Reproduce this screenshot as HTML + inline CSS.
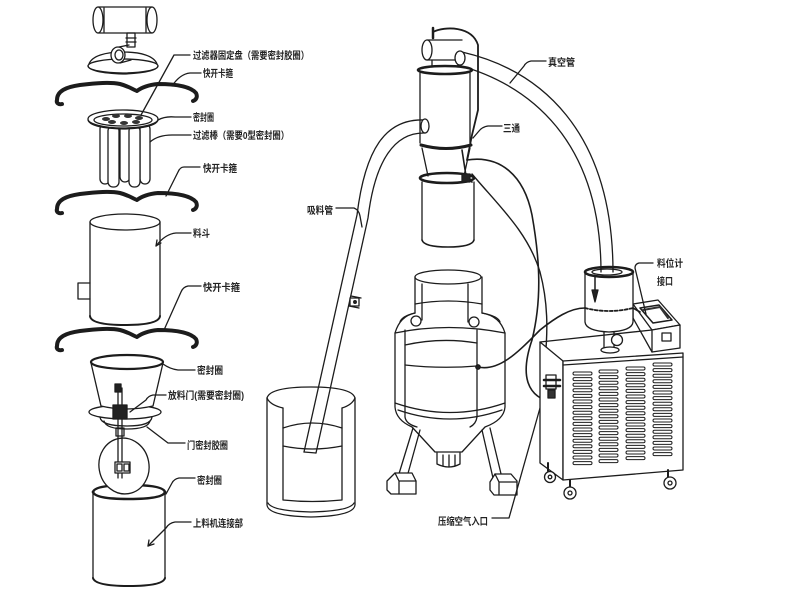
<!DOCTYPE html>
<html><head><meta charset="utf-8">
<style>
html,body{margin:0;padding:0;background:#fff;}
svg{display:block;}
text{font-family:"Liberation Sans","Noto Sans CJK SC","WenQuanYi Zen Hei",sans-serif;font-size:10px;fill:#222;font-weight:bold;}
</style></head>
<body>
<svg width="800" height="600" viewBox="0 0 800 600" xmlns="http://www.w3.org/2000/svg">
<defs>
<path id="clamp" d="M57 100 C57 91 66 87 80 85 C97 83 110 82 120 84 C128 86 132 89 137 91 C142 87 148 85 158 84 C174 84 190 86 196 93 C198 97 196 100 193 101 M57 100 C56 103 59 105 62 104"/>
</defs>
<g fill="none" stroke="#1c1c1c" stroke-width="1.3" stroke-linejoin="round" stroke-linecap="round">

<!-- ===== LEFT EXPLODED COLUMN ===== -->
<path d="M98 7 H152 M98 33 H152"/>
<ellipse cx="98" cy="20" rx="5" ry="13" fill="#fff"/>
<ellipse cx="152" cy="20" rx="5" ry="13"/>
<path d="M104 8 V32 M146 8 V32"/>
<rect x="127" y="33" width="8" height="14"/>
<path d="M126 38 H136 M126 42 H136"/>
<path d="M89 64 C92 56 105 52 123 52 C141 52 154 56 157 64"/>
<ellipse cx="123" cy="66" rx="35" ry="7" fill="#fff"/>
<path d="M88 66 Q90 73 123 74 Q156 73 158 66"/>
<ellipse cx="118" cy="55" rx="7" ry="8" fill="#fff"/>
<ellipse cx="119" cy="55" rx="4" ry="5"/>
<path d="M119 47 L129 45 M120 63 L131 60"/>

<use href="#clamp" stroke-width="4"/>

<g fill="#fff">
<rect x="100" y="124" width="10" height="60" rx="5"/>
<rect x="120" y="122" width="10" height="60" rx="5"/>
<rect x="140" y="124" width="10" height="60" rx="5"/>
<rect x="108" y="126" width="11" height="61" rx="5"/>
<rect x="129" y="126" width="11" height="61" rx="5"/>
</g>
<path d="M88 120 Q90 128 123 129 Q156 128 158 120" fill="#fff"/>
<ellipse cx="123" cy="119" rx="35" ry="9" fill="#fff"/>
<ellipse cx="123" cy="120" rx="29" ry="6"/>
<g fill="#333" stroke="none">
<ellipse cx="106" cy="119" rx="4" ry="2"/><ellipse cx="116" cy="116" rx="4" ry="2"/>
<ellipse cx="128" cy="116" rx="4" ry="2"/><ellipse cx="139" cy="118" rx="4" ry="2"/>
<ellipse cx="112" cy="122" rx="4" ry="2"/><ellipse cx="124" cy="123" rx="4" ry="2"/>
<ellipse cx="136" cy="122" rx="4" ry="2"/>
</g>

<use href="#clamp" transform="translate(0,109)" stroke-width="4"/>

<ellipse cx="125" cy="222" rx="35" ry="8"/>
<path d="M90 222 V316 M160 222 V316"/>
<path d="M90 316 Q91 325 125 325 Q159 325 160 316" stroke-width="2"/>
<path d="M90 283 H78 V299 H90"/>

<use href="#clamp" transform="translate(0,246)" stroke-width="4"/>

<ellipse cx="125" cy="412" rx="36" ry="7" fill="#fff"/>
<path d="M100 417 Q101 426 127 426 Q151 426 152 417"/>
<path d="M104 421 Q106 429 127 429 Q148 429 150 421"/>
<path d="M91 363 L101 406 Q126 412 153 406 L163 363" fill="#fff"/>
<ellipse cx="127" cy="362" rx="36" ry="7" stroke-width="2.2"/>

<path d="M93 492 Q95 485 129 485 Q163 485 165 492" stroke-width="2.5"/>
<ellipse cx="124" cy="466" rx="25" ry="28" transform="rotate(-10 124 466)" fill="#fff"/>
<path d="M118 388 V478 M122 388 V478"/>
<rect x="115" y="384" width="6" height="8" fill="#222"/>
<rect x="113" y="405" width="14" height="14" fill="#222"/>
<rect x="116" y="428" width="8" height="8"/>
<rect x="115" y="462" width="15" height="11" fill="#fff"/>
<rect x="117" y="464" width="5" height="7"/><rect x="124" y="464" width="5" height="7"/>
<path d="M93 492 Q95 499 129 499 Q163 499 165 492" stroke-width="2.5"/>
<path d="M93 492 V578 M165 492 V578"/>
<path d="M93 578 Q95 586 129 586 Q163 586 165 578" stroke-width="2"/>

<!-- left leaders -->
<path d="M190 55 H174 L141 115"/>
<path d="M201 73 H190 Q180 74 172 86"/>
<path d="M191 117 H175 Q165 116 158 120"/>
<path d="M191 135 H172 Q158 135 150 142"/>
<path d="M200 167 H184 Q180 167 178 172 L166 196"/>
<path d="M191 233 H176 Q165 234 156 246"/>
<path d="M156 246 L157 240 M156 246 L161 243"/>
<path d="M201 286 H188 Q183 287 181 292 L164 330"/>
<path d="M195 370 H178 Q170 369 163 364"/>
<path d="M166 395 H153 Q148 396 146 400 L130 412"/>
<path d="M185 443 H168 L147 427"/>
<path d="M195 478 H179 Q174 479 172 483 L166 494"/>
<path d="M191 522 H175 Q169 523 166 528 L148 546"/>
<path d="M148 546 L149 540 M148 546 L154 544"/>

<!-- ===== BEAKER ===== -->
<path d="M267 398 Q270 387 311 387 Q352 387 355 398"/>
<path d="M267 398 Q270 405 283 408 M342 408 Q352 405 355 398"/>
<path d="M283 408 V500 Q312 503 342 500 V408"/>
<path d="M267 398 V505 Q268 516 311 517 Q354 516 355 505 V398"/>
<path d="M268 503 Q272 511 311 512 Q350 511 354 503"/>
<path d="M283 428 Q312 418 342 428"/>
<path d="M283 446 Q312 452 342 446"/>

<!-- suction pipe -->
<path d="M425 120 C385 118 365 150 357 215 L304 452"/>
<path d="M425 133 C395 132 375 160 368 218 L316 453"/>
<path d="M304 452 L316 453"/>
<path d="M351 296 L361 298 M349 306 L359 308"/>
<rect x="350" y="298" width="9" height="8" fill="#fff"/>
<circle cx="355" cy="302" r="1.3" fill="#222"/>
<ellipse cx="425" cy="126" rx="4" ry="7" fill="#fff"/>
<path d="M336 208 H354 Q359 210 360 216 L362 227"/>

<!-- ===== CYCLONE RECEIVER ===== -->
<path d="M433 32 C445 26 472 26 478 45 L478 110 L472 135 L467 160" stroke-width="1.8"/>
<path d="M433 28 V38" stroke-width="2.5"/>
<path d="M427 40 H462 M427 60 H462"/>
<ellipse cx="427" cy="50" rx="5" ry="10" fill="#fff"/>
<path d="M432 60 V67 M458 60 V67"/>
<path d="M462 52 C540 70 612 130 613 270"/>
<path d="M458 65 C530 85 600 140 601 270"/>
<ellipse cx="460" cy="58" rx="5" ry="7" fill="#fff"/>
<ellipse cx="445" cy="70" rx="27" ry="4" stroke-width="2.6"/>
<path d="M420 73 V143 M470 73 V143"/>
<path d="M421 145 Q446 152 471 145" stroke-width="3"/>
<path d="M422 148 L428 176 M470 148 L464 176"/>
<ellipse cx="447" cy="178" rx="27" ry="5" stroke-width="2.6"/>
<path d="M422 182 V240 M474 182 V240"/>
<path d="M422 240 Q424 247 448 247 Q472 247 474 240" stroke-width="1.6"/>
<path d="M462 150 L466 176 L472 182" stroke-width="1.6"/>
<rect x="462" y="174" width="8" height="8" fill="#222"/>
<path d="M546 61 H531 Q526 62 524 66 L510 83"/>
<path d="M502 126 H488 Q482 127 479 131 L473 138"/>

<!-- cables -->
<path d="M467 160 C500 155 524 175 532 215 C540 260 542 300 532 340 C520 375 526 398 555 403" stroke-width="1.6"/>
<path d="M472 174 C498 205 528 232 540 272 C548 302 548 330 545 360" stroke-width="1.4"/>
<path d="M478 367 C500 372 520 350 540 330 C555 318 570 308 585 308" stroke-width="1.6"/>

<!-- ===== TANK ===== -->
<path d="M415 277 V313 M482 277 V313"/>
<ellipse cx="448" cy="277" rx="33" ry="7" fill="#fff"/>
<path d="M422 284 V320 M468 284 V322"/>
<path d="M415 304 Q448 298 482 304"/>
<path d="M415 313 Q400 316 395 333 V407 Q396 420 412 427 L435 452 H462 L485 427 Q504 420 505 407 V333 Q500 316 482 313"/>
<path d="M400 322 Q402 316 415 313 M500 322 Q498 316 482 313"/>
<circle cx="416" cy="321" r="5"/>
<circle cx="474" cy="322" r="5"/>
<path d="M405 330 V417 Q406 424 417 427 M477 330 V417 Q476 424 470 427"/>
<path d="M405 345 Q441 337 477 343"/>
<path d="M405 365 Q441 369 477 366"/>
<path d="M395 333 Q448 322 505 333"/>
<path d="M395 403 Q450 422 505 403"/>
<path d="M398 410 Q450 428 502 410"/>
<path d="M437 453 V464 Q449 470 460 464 V453"/>
<path d="M443 455 V466 M449 455 V467 M455 455 V466"/>
<circle cx="478" cy="367" r="2.2" fill="#222"/>
<path d="M413 428 L398 477 M420 430 L407 477"/>
<path d="M387 481 L395 473 H412 L416 481 V494 H391 L387 490 Z" fill="#fff"/>
<path d="M395 473 L399 481 H416 M399 481 V494"/>
<path d="M482 430 L493 478 M490 428 L502 478"/>
<path d="M490 482 L495 474 H511 L517 481 V495 H494 L490 490 Z" fill="#fff"/>
<path d="M495 474 L499 482 H517 M499 482 V495"/>
<path d="M492 518 H509 L540 408"/>

<!-- ===== MACHINE ===== -->
<path d="M540 342 L563 361 V480 L540 463 Z" fill="#fff"/>
<path d="M563 361 L683 353 V470 L563 480 Z" fill="#fff"/>
<path d="M540 342 L652 330"/>
<path d="M563 365 L683 357"/>
<g stroke-width="1">
<g id="vcol">
<rect x="573" y="372" width="19" height="3" rx="1.5"/><rect x="573" y="377.6" width="19" height="3" rx="1.5"/>
<rect x="573" y="383.2" width="19" height="3" rx="1.5"/><rect x="573" y="388.8" width="19" height="3" rx="1.5"/>
<rect x="573" y="394.4" width="19" height="3" rx="1.5"/><rect x="573" y="400" width="19" height="3" rx="1.5"/>
<rect x="573" y="405.6" width="19" height="3" rx="1.5"/><rect x="573" y="411.2" width="19" height="3" rx="1.5"/>
<rect x="573" y="416.8" width="19" height="3" rx="1.5"/><rect x="573" y="422.4" width="19" height="3" rx="1.5"/>
<rect x="573" y="428" width="19" height="3" rx="1.5"/><rect x="573" y="433.6" width="19" height="3" rx="1.5"/>
<rect x="573" y="439.2" width="19" height="3" rx="1.5"/><rect x="573" y="444.8" width="19" height="3" rx="1.5"/>
<rect x="573" y="450.4" width="19" height="3" rx="1.5"/><rect x="573" y="456" width="19" height="3" rx="1.5"/>
<rect x="573" y="461.6" width="19" height="3" rx="1.5"/>
</g>
<use href="#vcol" transform="translate(26,-2)"/>
<use href="#vcol" transform="translate(53,-5)"/>
<use href="#vcol" transform="translate(80,-9)"/>
</g>
<path d="M633 304 L658 300 L680 325 L652 330 Z" fill="#fff"/>
<path d="M652 330 L680 325 V348 L652 352 Z" fill="#fff"/>
<path d="M633 304 V318 L652 352"/>
<path d="M640 308 L659 305 L672 320 L653 323 Z" stroke-width="1.5"/>
<path d="M643 310 L660 307 L668 318" stroke="#333" stroke-width="2"/>
<rect x="662" y="333" width="9" height="8"/>
<path d="M585 272 V322 Q586 331 609 332 Q632 331 633 322 V272" fill="#fff"/>
<path d="M601 268 V272 M613 268 V272"/>
<ellipse cx="609" cy="272" rx="24" ry="5" stroke-width="2.5"/>
<ellipse cx="607" cy="272" rx="15" ry="3"/>
<path d="M585 308 Q609 314 633 308" stroke-dasharray="3 2" stroke-width="1.8"/>
<path d="M633 308 L640 312" stroke-width="1.6"/>
<path d="M595 277 V300" stroke-width="1.5"/>
<path d="M592 290 L595 302 L598 290 Z" fill="#222"/>
<path d="M604 332 V348 M614 332 V348"/>
<circle cx="617" cy="340" r="5.5" fill="#fff"/>
<ellipse cx="610" cy="350" rx="9" ry="3" fill="#fff"/>
<path d="M653 263 H639 Q635 264 635 268 L646 314"/>
<rect x="546" y="375" width="10" height="14" fill="#fff"/>
<path d="M544 380 H560 M544 386 H560" stroke-width="2.5"/>
<rect x="548" y="390" width="7" height="8" fill="#333"/>
<path d="M548 463 V471 M570 480 V487 M668 470 V477" stroke-width="2"/>
<circle cx="550" cy="477" r="5.5" fill="#fff"/><circle cx="550" cy="477" r="1.8"/>
<circle cx="570" cy="493" r="6" fill="#fff"/><circle cx="570" cy="493" r="2"/>
<circle cx="670" cy="483" r="6" fill="#fff"/><circle cx="670" cy="483" r="2"/>
</g>

<!-- ===== TEXT LABELS ===== -->
<text x="193" y="59" textLength="116" lengthAdjust="spacingAndGlyphs">过滤器固定盘（需要密封胶圈）</text>
<text x="203" y="77" textLength="30" lengthAdjust="spacingAndGlyphs">快开卡箍</text>
<text x="193" y="121" textLength="21" lengthAdjust="spacingAndGlyphs">密封圈</text>
<text x="193" y="139" textLength="96" lengthAdjust="spacingAndGlyphs">过滤棒（需要0型密封圈）</text>
<text x="203" y="172" textLength="34" lengthAdjust="spacingAndGlyphs">快开卡箍</text>
<text x="193" y="237" textLength="17" lengthAdjust="spacingAndGlyphs">料斗</text>
<text x="203" y="291" textLength="37" lengthAdjust="spacingAndGlyphs">快开卡箍</text>
<text x="197" y="374" textLength="26" lengthAdjust="spacingAndGlyphs">密封圈</text>
<text x="168" y="399" textLength="76" lengthAdjust="spacingAndGlyphs">放料门(需要密封圈)</text>
<text x="187" y="449" textLength="41" lengthAdjust="spacingAndGlyphs">门密封胶圈</text>
<text x="197" y="484" textLength="25" lengthAdjust="spacingAndGlyphs">密封圈</text>
<text x="193" y="527" textLength="50" lengthAdjust="spacingAndGlyphs">上料机连接部</text>
<text x="548" y="66" textLength="27" lengthAdjust="spacingAndGlyphs">真空管</text>
<text x="503" y="132" textLength="17" lengthAdjust="spacingAndGlyphs">三通</text>
<text x="307" y="214" textLength="26" lengthAdjust="spacingAndGlyphs">吸料管</text>
<text x="657" y="267" textLength="26" lengthAdjust="spacingAndGlyphs">料位计</text>
<text x="657" y="285" textLength="16" lengthAdjust="spacingAndGlyphs">接口</text>
<text x="438" y="525" textLength="50" lengthAdjust="spacingAndGlyphs">压缩空气入口</text>
</svg>
</body></html>
